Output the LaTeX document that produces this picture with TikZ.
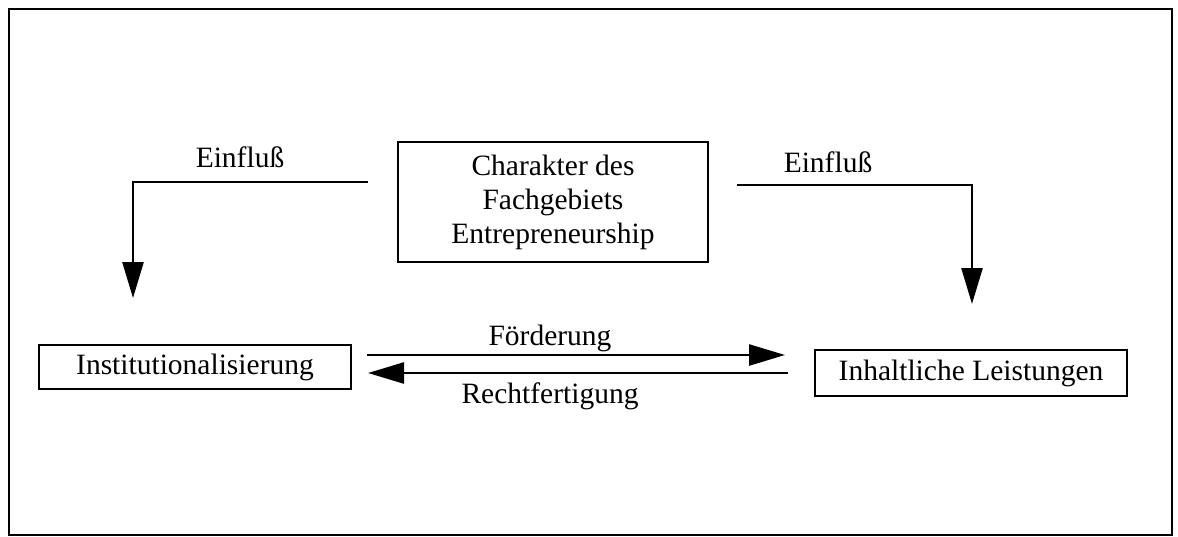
\documentclass[tikz,border=0pt]{standalone}
\usepackage{fontspec}
\setmainfont{Liberation Serif}
\usetikzlibrary{arrows.meta}
\begin{document}
\begin{tikzpicture}[x=1pt,y=-1pt,
  every node/.style={font=\fontsize{29.5}{34}\selectfont},
  box/.style={draw,line width=2.2pt,inner sep=0pt,align=center},
  flow/.style={line width=2.6pt,-{Triangle[length=36pt,width=21pt]}},
  lbl/.style={anchor=base,inner sep=0pt}]
  \useasboundingbox (0,0) rectangle (1178,536);
  % outer frame
  \draw[line width=2pt] (9,9) rectangle (1172,535);

  % boxes
  \node[box,minimum width=310pt,minimum height=120pt] (char) at (553,202)
    {Charakter des\\Fachgebiets\\Entrepreneurship};
  \node[box,minimum width=312pt,minimum height=44pt] (inst) at (195,367)
    {Institutionalisierung};
  \node[box,minimum width=312pt,minimum height=46pt] (leist) at (971,373)
    {Inhaltliche Leistungen};

  % free ends of the connectors
  \coordinate (einL) at (368,182);
  \coordinate (tipL) at (133,298);
  \coordinate (einR) at (737,185);
  \coordinate (tipR) at (972,304);
  \coordinate (foeS) at (367,355);
  \coordinate (foeE) at (785,355);
  \coordinate (reS) at (788,373);
  \coordinate (reE) at (368,373);

  % influence arrows
  \draw[flow] (einL) -| (tipL);
  \draw[flow] (einR) -| (tipR);
  \node[lbl] (lblL) at (240,167) {Einflu\ss};
  \node[lbl] (lblR) at (828,172) {Einflu\ss};

  % mutual arrows
  \draw[flow] (foeS) -- (foeE);
  \draw[flow] (reS) -- (reE);
  \node[lbl] (lblF) at (550,345) {Förderung};
  \node[lbl] (lblRe) at (550,403) {Rechtfertigung};
\end{tikzpicture}
\end{document}
